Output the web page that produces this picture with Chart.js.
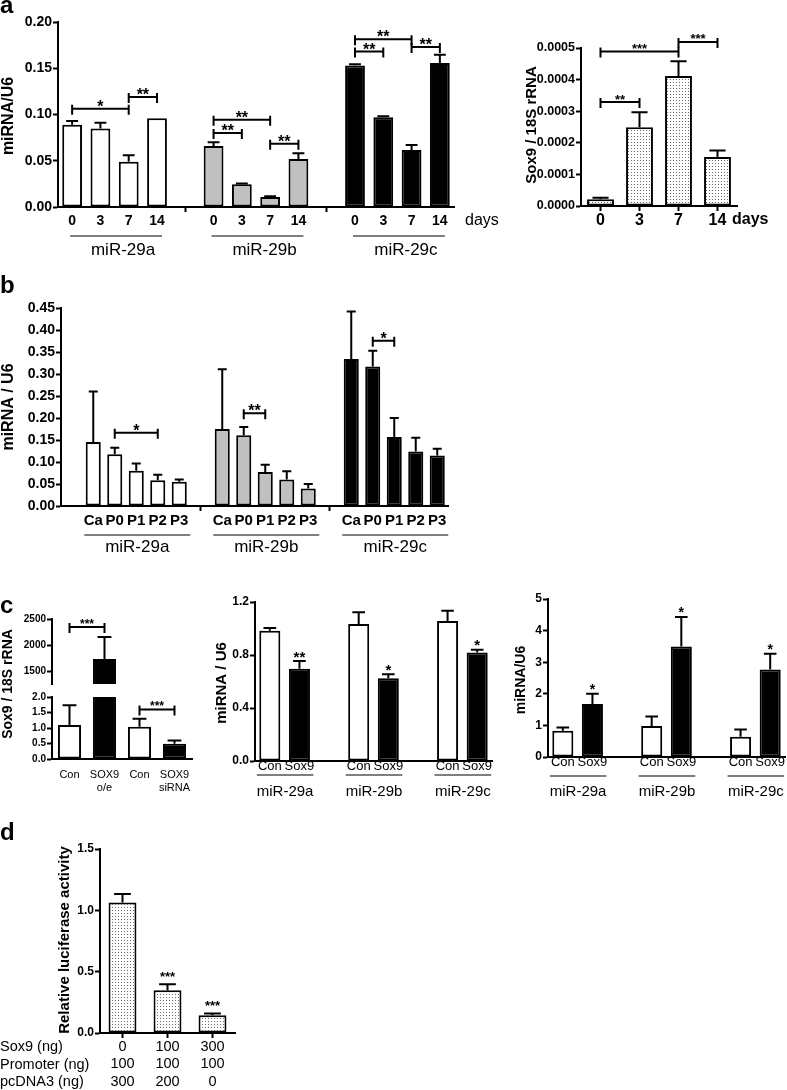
<!DOCTYPE html>
<html>
<head>
<meta charset="utf-8">
<script src="https://cdn.jsdelivr.net/npm/chart.js@4.4.1/dist/chart.umd.min.js"></script>
<style>
  html, body { margin: 0; padding: 0; background: #fff; }
  #fig { position: relative; width: 787px; height: 1090px; overflow: hidden; }
  #fig canvas { position: absolute; left: 0; top: 0; }
</style>
</head>
<body>
<div id="fig"></div>
<script>
const W = 787, H = 1090
const SANS = "'Liberation Sans', Arial, sans-serif"

// a: miRNA over days in culture
const dayLabels = ['0', '3', '7', '14']
const a29a = [0.089, 0.085, 0.049, 0.096]
const a29aErr = [0.004, 0.006, 0.007, 0]
const a29b = [0.066, 0.0245, 0.0108, 0.052]
const a29bErr = [0.004, 0.001, 0.0007, 0.006]
const a29c = [0.153, 0.097, 0.0616, 0.1557]
const a29cErr = [0.0014, 0.0011, 0.0054, 0.009]
const sox9Days = [0.000021, 0.000249, 0.000411, 0.000155]
const sox9DaysErr = [0.000005, 0.000048, 0.000047, 0.000021]

// b: miRNA over passages
const passageLabels = ['Ca', 'P0', 'P1', 'P2', 'P3']
const b29a = [0.1455, 0.1176, 0.080, 0.0588, 0.055]
const b29aErr = [0.1145, 0.015, 0.0165, 0.012, 0.005]
const b29b = [0.175, 0.1606, 0.077, 0.060, 0.040]
const b29bErr = [0.136, 0.019, 0.017, 0.019, 0.010]
const b29c = [0.334, 0.317, 0.157, 0.124, 0.115]
const b29cErr = [0.108, 0.036, 0.043, 0.031, 0.015]

// c: SOX9 over-expression / knock-down
const cSoxLabels = ['Con', ['SOX9', 'o/e'], 'Con', ['SOX9', 'siRNA']]
const cSox = [1.10, 1731, 1.04, 0.49]
const cSoxErr = [0.63, 423, 0.26, 0.11]
const pairLabels = ['Con', 'Sox9', '', 'Con', 'Sox9', '', 'Con', 'Sox9']
const groupNames = ['miR-29a', 'miR-29b', 'miR-29c']
const cCon = [0.983, 1.034, 1.056]
const cConErr = [0.020, 0.088, 0.078]
const cSox9 = [0.696, 0.625, 0.819]
const cSox9Err = [0.058, 0.030, 0.020]
const ckCon = [0.83, 0.98, 0.64]
const ckConErr = [0.10, 0.30, 0.23]
const ckSox9 = [1.68, 3.50, 2.77]
const ckSox9Err = [0.32, 0.93, 0.50]

// d: promoter luciferase
const dSox9 = ['0', '100', '300']
const dPromoter = ['100', '100', '100']
const dPcDNA3 = ['300', '200', '0']
const dLuc = [1.064, 0.348, 0.144]
const dLucErr = [0.069, 0.049, 0.014]

const fig = document.getElementById('fig')

function font(size, bold, family) {
  return { family: family || SANS, size, weight: bold ? 'bold' : 'normal', lineHeight: 1.2 }
}
function css(size, bold) {
  return (bold ? 'bold ' : '') + size + 'px ' + SANS
}

// put values into a slot array at the given indices
function slots(n, vals, at) {
  const out = Array(n).fill(null)
  vals.forEach((v, k) => { out[at[k]] = v })
  return out
}

function dots(ctx) {
  const t = document.createElement('canvas')
  t.width = 3; t.height = 3
  const g = t.getContext('2d')
  g.fillStyle = '#fff'; g.fillRect(0, 0, 3, 3)
  g.fillStyle = '#6a6a6a'; g.fillRect(1, 1, 1, 1)
  return ctx.createPattern(t, 'repeat')
}

function drawText(ctx, s, x, y, f, align, rot, base) {
  ctx.save()
  ctx.translate(x, y)
  if (rot) ctx.rotate(rot)
  ctx.font = f
  ctx.fillStyle = '#000'
  ctx.textAlign = align || 'center'
  ctx.textBaseline = base || 'middle'
  ctx.fillText(s, 0, 0)
  ctx.restore()
}

function star(ctx, s, x, cy, size) {
  drawText(ctx, s, x, cy + 0.575 * size, css(size, true), 'center', 0, 'alphabetic')
}

// error bars, significance brackets, labels
function extras(o) {
  return {
    id: 'extras',
    afterDraw(chart) {
      const ctx = chart.ctx, xs = chart.scales.x, ys = chart.scales.y, ca = chart.chartArea
      ctx.save()
      ctx.strokeStyle = '#000'
      ctx.lineWidth = 2
      ctx.save()
      if (o.clip) {
        ctx.beginPath()
        ctx.rect(ca.left - 5, ca.top, ca.right - ca.left + 10, ca.bottom - ca.top)
        ctx.clip()
      }
      chart.data.datasets.forEach((ds, di) => {
        chart.getDatasetMeta(di).data.forEach((bar, i) => {
          const v = ds.data[i], e = ds.err && ds.err[i]
          if (v == null || !e) return
          const top = ys.getPixelForValue(v + e), half = bar.width * 0.3
          ctx.beginPath()
          ctx.moveTo(bar.x, bar.y); ctx.lineTo(bar.x, top)
          ctx.moveTo(bar.x - half, top); ctx.lineTo(bar.x + half, top)
          ctx.stroke()
        })
      })
      ctx.restore()

      ;(o.brackets || []).forEach(([i, j, v, s]) => {
        const x1 = xs.getPixelForValue(i), x2 = xs.getPixelForValue(j), y = ys.getPixelForValue(v)
        ctx.beginPath()
        ctx.moveTo(x1, y); ctx.lineTo(x2, y)
        ctx.moveTo(x1, y - 4); ctx.lineTo(x1, y + 6)
        ctx.moveTo(x2, y - 4); ctx.lineTo(x2, y + 6)
        ctx.stroke()
        star(ctx, s, (x1 + x2) / 2, y - 6, o.starSize)
      })

      ;(o.stars || []).forEach(([di, i, s]) => {
        const ds = chart.data.datasets[di]
        const y = ys.getPixelForValue(ds.data[i] + (ds.err[i] || 0))
        star(ctx, s, xs.getPixelForValue(i), y - o.starGap, o.starSize)
      })

      ;(o.groups || []).forEach(g => {
        const x1 = xs.getPixelForValue(g.from) - g.dl, x2 = xs.getPixelForValue(g.to) + g.dr
        ctx.lineWidth = 1.2
        ctx.beginPath(); ctx.moveTo(x1, g.y); ctx.lineTo(x2, g.y); ctx.stroke()
        drawText(ctx, g.label, (x1 + x2) / 2 + (g.shift || 0), g.ly, g.font)
      })

      ;(o.texts || []).forEach(t => drawText(ctx, ...t))
      ctx.restore()
    }
  }
}

function barPanel(o) {
  const cv = document.createElement('canvas')
  cv.width = W; cv.height = H
  fig.appendChild(cv)
  const ctx = cv.getContext('2d')
  const datasets = o.bars.map(b => ({
    data: b.data,
    err: b.err,
    backgroundColor: b.fill === 'dots' ? dots(ctx) : b.fill,
    borderColor: '#000',
    borderWidth: 2,
    borderSkipped: false,
    grouped: false,
    categoryPercentage: 1,
    barPercentage: o.barPct
  }))
  return new Chart(ctx, {
    type: 'bar',
    data: { labels: o.labels, datasets },
    options: {
      responsive: false,
      animation: false,
      events: [],
      layout: { padding: { left: 0, top: o.area.t, right: W - o.area.r, bottom: 0 } },
      plugins: { legend: { display: false }, tooltip: { enabled: false } },
      scales: {
        x: {
          offset: true,
          border: { display: o.xBorder !== false, color: '#000', width: 2 },
          grid: {
            drawOnChartArea: false, offset: false,
            tickLength: o.xTickLen ?? 5, tickWidth: 2,
            tickColor: c => (o.xTick && o.xTick(c.index)) ? '#000' : 'rgba(0,0,0,0)'
          },
          ticks: {
            display: o.showX !== false, color: '#000', font: o.xFont,
            padding: o.xPad ?? 0, autoSkip: false, maxRotation: 0
          },
          afterFit: s => { s.height = H - o.area.b }
        },
        y: {
          min: o.yMin, max: o.yMax,
          border: { color: '#000', width: 2 },
          grid: { drawOnChartArea: false, tickLength: 5, tickWidth: 2, tickColor: '#000' },
          ticks: { stepSize: o.yStep, color: '#000', font: o.yFont, padding: 1, callback: o.yFmt },
          afterBuildTicks: s => { if (o.yKeep) s.ticks = s.ticks.filter(t => o.yKeep(t.value)) },
          afterFit: s => { s.width = o.area.l }
        }
      }
    },
    plugins: [extras(o)]
  })
}

// ---------- a (left) ----------
const aLabels = [...dayLabels, '', ...dayLabels, '', ...dayLabels]
barPanel({
  area: { l: 58, t: 22, r: 454, b: 207 },
  labels: aLabels,
  bars: [
    { data: slots(14, a29a, [0, 1, 2, 3]), err: slots(14, a29aErr, [0, 1, 2, 3]), fill: '#fff' },
    { data: slots(14, a29b, [5, 6, 7, 8]), err: slots(14, a29bErr, [5, 6, 7, 8]), fill: '#c0c0c0' },
    { data: slots(14, a29c, [10, 11, 12, 13]), err: slots(14, a29cErr, [10, 11, 12, 13]), fill: '#000' }
  ],
  barPct: 0.7,
  yMin: 0, yMax: 0.2, yStep: 0.05, yFmt: v => v.toFixed(2), yFont: font(14, true),
  xFont: font(14, true), xPad: 1, xTick: i => aLabels[i] === '',
  brackets: [
    [0, 2, 0.1063, '*'], [2, 3, 0.119, '**'],
    [5, 7, 0.0944, '**'], [5, 6, 0.080, '**'], [7, 8, 0.0685, '**'],
    [10, 12, 0.1813, '**'], [10, 11, 0.168, '**'], [12, 13, 0.173, '**']
  ],
  starSize: 16,
  groups: [
    { from: 0, to: 3, dl: 2, dr: 5, y: 236, ly: 250, label: groupNames[0], font: css(17), shift: 7 },
    { from: 5, to: 8, dl: 2, dr: 5, y: 236, ly: 250, label: groupNames[1], font: css(17), shift: 7 },
    { from: 10, to: 13, dl: 2, dr: 5, y: 236, ly: 250, label: groupNames[2], font: css(17), shift: 7 }
  ],
  texts: [
    ['a', 0, 13, css(24, true), 'left', 0, 'alphabetic'],
    ['miRNA/U6', 9, 116, css(16, true), 'center', -Math.PI / 2],
    ['days', 465, 221, css(16), 'left']
  ]
})

// ---------- a (right) ----------
barPanel({
  area: { l: 581, t: 48, r: 737, b: 206 },
  labels: dayLabels,
  bars: [{ data: sox9Days, err: sox9DaysErr, fill: 'dots' }],
  barPct: 0.69,
  yMin: 0, yMax: 0.0005, yStep: 0.0001, yFmt: v => v.toFixed(4), yFont: font(12.5, true),
  xFont: font(16, true), xPad: 0, xTick: () => true,
  brackets: [[0, 1, 0.000329, '**'], [0, 2, 0.000489, '***'], [2, 3, 0.000519, '***']],
  starSize: 13,
  texts: [
    ['Sox9 / 18S rRNA', 532, 125, css(15, true), 'center', -Math.PI / 2],
    ['days', 732, 220, css(16, true), 'left']
  ]
})

// ---------- b ----------
const bLabels = ['', ...passageLabels, '', ...passageLabels, '', ...passageLabels]
barPanel({
  area: { l: 61, t: 308, r: 448, b: 506 },
  labels: bLabels,
  bars: [
    { data: slots(18, b29a, [1, 2, 3, 4, 5]), err: slots(18, b29aErr, [1, 2, 3, 4, 5]), fill: '#fff' },
    { data: slots(18, b29b, [7, 8, 9, 10, 11]), err: slots(18, b29bErr, [7, 8, 9, 10, 11]), fill: '#c0c0c0' },
    { data: slots(18, b29c, [13, 14, 15, 16, 17]), err: slots(18, b29cErr, [13, 14, 15, 16, 17]), fill: '#000' }
  ],
  barPct: 0.7,
  yMin: 0, yMax: 0.45, yStep: 0.05, yFmt: v => v.toFixed(2), yFont: font(14, true),
  xFont: font(15, true), xPad: 1, xTick: i => i === 6 || i === 12,
  brackets: [[2, 4, 0.1667, '*'], [8, 9, 0.211, '**'], [14, 15, 0.3756, '*']],
  starSize: 16,
  groups: [
    { from: 1, to: 5, dl: 9, dr: 11, y: 535, ly: 547, label: groupNames[0], font: css(17) },
    { from: 7, to: 11, dl: 9, dr: 11, y: 535, ly: 547, label: groupNames[1], font: css(17) },
    { from: 13, to: 17, dl: 9, dr: 11, y: 535, ly: 547, label: groupNames[2], font: css(17) }
  ],
  texts: [
    ['b', 0, 293, css(24, true), 'left', 0, 'alphabetic'],
    ['miRNA / U6', 9, 407, css(16, true), 'center', -Math.PI / 2]
  ]
})

// ---------- c (left, broken axis) ----------
const cFills = ['#fff', '#000', '#fff', '#000']
barPanel({
  area: { l: 52, t: 619, r: 192, b: 684 },
  labels: cSoxLabels,
  bars: [{ data: cSox, err: cSoxErr, fill: cFills }],
  barPct: 0.66,
  yMin: 1250, yMax: 2500, yStep: 250, yKeep: v => v % 500 === 0, yFmt: v => String(v), yFont: font(10, true),
  xBorder: false, showX: false, clip: true,
  brackets: [[0, 1, 2346, '***']],
  starSize: 12,
  texts: [
    ['c', 0, 613, css(24, true), 'left', 0, 'alphabetic'],
    ['Sox9 / 18S rRNA', 8, 684, css(14, true), 'center', -Math.PI / 2]
  ]
})
barPanel({
  area: { l: 52, t: 697, r: 192, b: 759 },
  labels: cSoxLabels,
  bars: [{ data: cSox, err: cSoxErr, fill: cFills }],
  barPct: 0.66,
  yMin: 0, yMax: 2, yStep: 0.5, yFmt: v => v.toFixed(1), yFont: font(10, true),
  xFont: font(11), xPad: 4, clip: true,
  brackets: [[2, 3, 1.6, '***']],
  starSize: 12
})

// ---------- c (middle) ----------
barPanel({
  area: { l: 255, t: 602, r: 492, b: 761 },
  labels: pairLabels,
  bars: [
    { data: slots(8, cCon, [0, 3, 6]), err: slots(8, cConErr, [0, 3, 6]), fill: '#fff' },
    { data: slots(8, cSox9, [1, 4, 7]), err: slots(8, cSox9Err, [1, 4, 7]), fill: '#000' }
  ],
  barPct: 0.71,
  yMin: 0, yMax: 1.2, yStep: 0.4, yFmt: v => v.toFixed(1), yFont: font(12, true),
  xFont: font(13), xTickLen: 0, xPad: -2,
  stars: [[1, 1, '**'], [1, 4, '*'], [1, 7, '*']],
  starSize: 15, starGap: 8,
  groups: [0, 3, 6].map((s, k) => (
    { from: s, to: s + 1, dl: 13, dr: 14, y: 775, ly: 792, label: groupNames[k], font: css(15) }
  )),
  texts: [['miRNA / U6', 222, 683, css(15, true), 'center', -Math.PI / 2]]
})

// ---------- c (right) ----------
barPanel({
  area: { l: 548, t: 599, r: 785, b: 757 },
  labels: pairLabels,
  bars: [
    { data: slots(8, ckCon, [0, 3, 6]), err: slots(8, ckConErr, [0, 3, 6]), fill: '#fff' },
    { data: slots(8, ckSox9, [1, 4, 7]), err: slots(8, ckSox9Err, [1, 4, 7]), fill: '#000' }
  ],
  barPct: 0.71,
  yMin: 0, yMax: 5, yStep: 1, yFmt: v => String(v), yFont: font(12, true),
  xFont: font(13), xTickLen: 0, xPad: -2,
  stars: [[1, 1, '*'], [1, 4, '*'], [1, 7, '*']],
  starSize: 14, starGap: 8,
  groups: [0, 3, 6].map((s, k) => (
    { from: s, to: s + 1, dl: 13, dr: 14, y: 776, ly: 792, label: groupNames[k], font: css(15) }
  )),
  texts: [['miRNA/U6', 521, 680, css(14, true), 'center', -Math.PI / 2]]
})

// ---------- d ----------
barPanel({
  area: { l: 100, t: 849, r: 235, b: 1033 },
  labels: dSox9.map((s, i) => [s, dPromoter[i], dPcDNA3[i]]),
  bars: [{ data: dLuc, err: dLucErr, fill: 'dots' }],
  barPct: 0.62,
  yMin: 0, yMax: 1.5, yStep: 0.5, yFmt: v => v.toFixed(1), yFont: font(12, true),
  xFont: font(14.5), xPad: 0, xTick: () => true,
  stars: [[0, 1, '***'], [0, 2, '***']],
  starSize: 13, starGap: 11,
  texts: [
    ['d', 0, 840, css(24, true), 'left', 0, 'alphabetic'],
    ['Relative luciferase activity', 65, 940, css(15, true), 'center', -Math.PI / 2],
    ['Sox9 (ng)', 0, 1047, css(14.5), 'left'],
    ['Promoter (ng)', 0, 1064.5, css(14.5), 'left'],
    ['pcDNA3 (ng)', 0, 1082, css(14.5), 'left']
  ]
})
</script>
</body>
</html>
